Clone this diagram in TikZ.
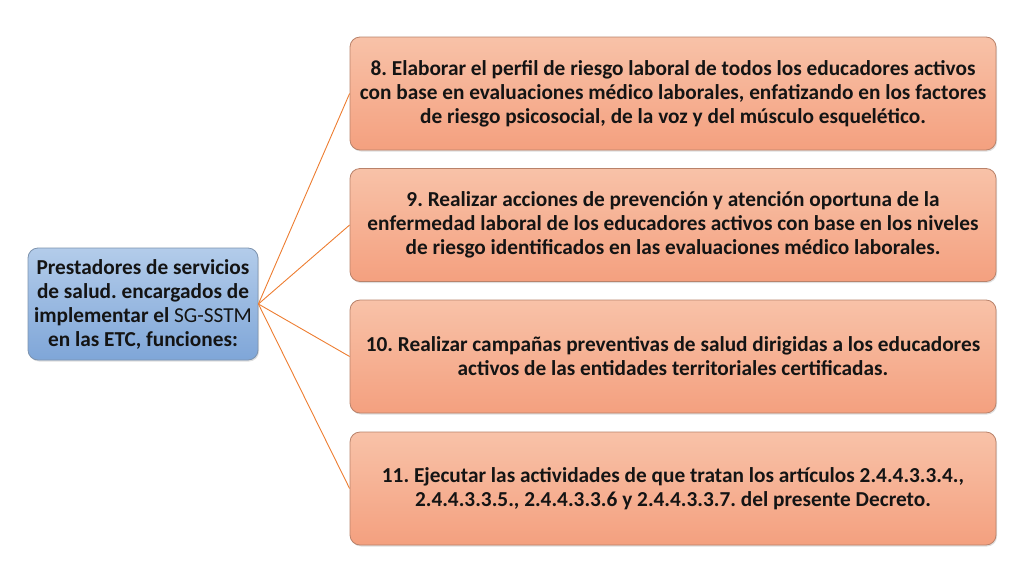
\documentclass[tikz,border=0pt]{standalone}
\usepackage{fontspec}
\setmainfont{Carlito}
\frenchspacing
\usetikzlibrary{shadows}
\definecolor{salmtop}{HTML}{F8C2A8}
\definecolor{salmbot}{HTML}{F4A07F}
\definecolor{salmdraw}{HTML}{B9826A}
\definecolor{bluetop}{HTML}{B3CCEA}
\definecolor{bluebot}{HTML}{7FA6D8}
\definecolor{bluedraw}{HTML}{7D93AE}
\definecolor{linkc}{HTML}{ED7D31}
\tikzset{
  itembox/.style={draw=salmdraw, line width=0.8pt, rounded corners=10pt, top color=salmtop, bottom color=salmbot,
    minimum width=646pt, minimum height=113pt, align=center, font=\bfseries\fontsize{21.3}{24}\selectfont, text=black!92,
    drop shadow={shadow xshift=1pt, shadow yshift=-1.5pt, opacity=0.25}},
  rootbox/.style={draw=bluedraw, line width=0.8pt, rounded corners=10pt, top color=bluetop, bottom color=bluebot,
    minimum width=230pt, minimum height=112pt, align=center, font=\bfseries\fontsize{21.3}{24}\selectfont, text=black!92,
    drop shadow={shadow xshift=1pt, shadow yshift=-1.5pt, opacity=0.25}},
  link/.style={draw=linkc, line width=0.9pt}
}
\begin{document}
\begin{tikzpicture}[x=1pt,y=-1pt]
\useasboundingbox (0,0) rectangle (1024,576);
\node[rootbox] (root) at (143,304) {Prestadores de servicios\\de salud. encargados de\\implementar el {\mdseries SG-SSTM}\\en las ETC, funciones:};
\node[itembox] (b8) at (673,93.5) {8. Elaborar el perfil de riesgo laboral de todos los educadores activos\\con base en evaluaciones médico laborales, enfatizando en los factores\\de riesgo psicosocial, de la voz y del músculo esquelético.};
\node[itembox] (b9) at (673,225) {9. Realizar acciones de prevención y atención oportuna de la\\enfermedad laboral de los educadores activos con base en los niveles\\de riesgo identificados en las evaluaciones médico laborales.};
\node[itembox] (b10) at (673,356.5) {10. Realizar campañas preventivas de salud dirigidas a los educadores\\activos de las entidades territoriales certificadas.};
\node[itembox] (b11) at (673,488.5) {11. Ejecutar las actividades de que tratan los artículos 2.4.4.3.3.4.,\\2.4.4.3.3.5., 2.4.4.3.3.6 y 2.4.4.3.3.7. del presente Decreto.};
\foreach \b in {b8,b9,b10,b11}{\draw[link] (root.east) -- (\b.west);}
\end{tikzpicture}
\end{document}
